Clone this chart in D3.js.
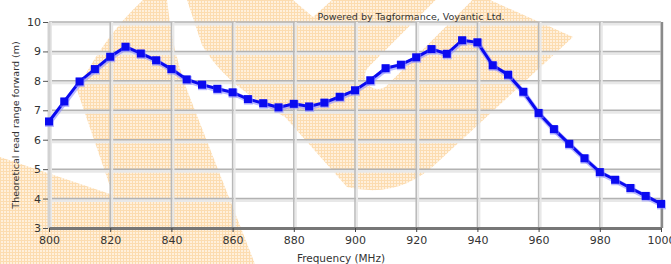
<!DOCTYPE html>
<html>
<head>
<meta charset="utf-8">
<script src="https://cdn.jsdelivr.net/npm/d3@7"></script>
<style>
  body { margin: 0; background: #fff; }
  text { font-family: "DejaVu Sans", sans-serif; fill: #333; }
</style>
</head>
<body>
<div id="chart"></div>
<script>
// data
var freqs = [800, 805, 810, 815, 820, 825, 830, 835, 840, 845, 850, 855, 860, 865, 870, 875, 880, 885, 890, 895, 900,
             905, 910, 915, 920, 925, 930, 935, 940, 945, 950, 955, 960, 965, 970, 975, 980, 985, 990, 995, 1000];
var range = [6.62, 7.30, 7.98, 8.40, 8.82, 9.16, 8.93, 8.70, 8.40, 8.05, 7.87, 7.73, 7.61, 7.38, 7.24, 7.10, 7.22, 7.13, 7.26, 7.46, 7.68,
             8.02, 8.43, 8.55, 8.80, 9.08, 8.92, 9.38, 9.31, 8.53, 8.21, 7.63, 6.91, 6.36, 5.86, 5.37, 4.90, 4.64, 4.36, 4.09, 3.82];
var xTicks = [800, 820, 840, 860, 880, 900, 920, 940, 960, 980, 1000];
var yTicks = [3, 4, 5, 6, 7, 8, 9, 10];

var svgWidth = 671, svgHeight = 264;
var margin = {top: 22, right: 10, bottom: 36, left: 49};
var width = 612, height = 206;

var svg = d3.select("#chart").append("svg").attr("width", svgWidth).attr("height", svgHeight);

// watermark logo (decoration behind the grid)
var defs = svg.append("defs");
var pat = defs.append("pattern").attr("id", "dots").attr("width", 3).attr("height", 3).attr("patternUnits", "userSpaceOnUse");
pat.append("rect").attr("width", 3).attr("height", 3).attr("fill", "#fff0dc");
pat.append("rect").attr("width", 3).attr("height", 1).attr("fill", "#fcdcb0");
pat.append("rect").attr("width", 1).attr("height", 3).attr("fill", "#fcdcb0");

var logo = svg.append("g");
logo.append("path").attr("fill", "url(#dots)")
  .attr("d", "M143,0 L167,0 Q172,50 187,90 L255,264 L0,264 L0,157 L113,195 L77,90 Q105,35 143,0 Z");
logo.append("path").attr("fill", "url(#dots)")
  .attr("d", "M187,0 L490,0 L573,37 L440,160 Q400,200 347,187 L285,117 Q225,85 202,45 Z");
logo.append("path").attr("fill", "#fff").attr("d", "M293,0 L313,17 L332,0 Z");
logo.append("line").attr("x1", 462).attr("y1", -8).attr("x2", 378).attr("y2", 76)
  .attr("stroke", "#fff").attr("stroke-width", 26).attr("stroke-linecap", "round");

var x = d3.scaleLinear().domain([800, 1000]).range([margin.left, margin.left + width]);
var y = d3.scaleLinear().domain([3, 10]).range([margin.top + height, margin.top]);

// grid
var grid = svg.append("g");
grid.selectAll(".hband").data(yTicks.slice(1)).enter().append("line")
  .attr("x1", x(800)).attr("x2", x(1000))
  .attr("y1", d => y(d) + 2).attr("y2", d => y(d) + 2)
  .attr("stroke", "#e8e8e8").attr("stroke-width", 3);
grid.selectAll(".hline").data(yTicks.slice(1)).enter().append("line")
  .attr("x1", x(800)).attr("x2", x(1000))
  .attr("y1", d => y(d)).attr("y2", d => y(d))
  .attr("stroke", "#b2b2b2").attr("stroke-width", 1.5);
grid.selectAll(".vband").data(xTicks).enter().append("line")
  .attr("x1", d => x(d) + 2).attr("x2", d => x(d) + 2)
  .attr("y1", y(10)).attr("y2", y(3))
  .attr("stroke", "#e8e8e8").attr("stroke-width", 2);
grid.selectAll(".vline").data(xTicks).enter().append("line")
  .attr("x1", d => x(d)).attr("x2", d => x(d))
  .attr("y1", y(10)).attr("y2", y(3))
  .attr("stroke", d => d == 800 ? "#d2d2d2" : "#b8b8b8").attr("stroke-width", d => d == 800 ? 3 : 1.5);
// right border
svg.append("line").attr("x1", x(1000) + 1).attr("x2", x(1000) + 1).attr("y1", y(10)).attr("y2", y(3))
  .attr("stroke", "#8a8a8a").attr("stroke-width", 2);

// axes
var bottomAxis = d3.axisBottom(x).tickValues(xTicks).tickFormat(d3.format("d")).tickSize(4).tickSizeOuter(0).tickPadding(4);
var leftAxis = d3.axisLeft(y).tickValues(yTicks).tickFormat(d3.format("d")).tickSize(5).tickSizeOuter(0).tickPadding(2);

var gx = svg.append("g").attr("transform", `translate(0,${y(3)})`).call(bottomAxis);
gx.select(".domain").attr("stroke", "#777").attr("stroke-width", 3);
gx.selectAll(".tick line").attr("stroke", "#444");
gx.selectAll(".tick text").attr("font-size", 11).attr("font-family", "DejaVu Sans").attr("fill", "#333");

var gy = svg.append("g").attr("transform", `translate(${margin.left - 1},0)`).call(leftAxis);
gy.select(".domain").remove();
gy.selectAll(".tick line").attr("stroke", "#555");
gy.selectAll(".tick text").attr("font-size", 11).attr("font-family", "DejaVu Sans").attr("fill", "#333");

// series
var pts = freqs.map((f, i) => [f, range[i]]);
var line = d3.line().x(d => x(d[0])).y(d => y(d[1]));

svg.append("path").datum(pts).attr("d", line)
  .attr("fill", "none").attr("stroke", "#8c8cff").attr("stroke-width", 5).attr("opacity", 0.6)
  .attr("transform", "translate(0.5,1)");
svg.append("path").datum(pts).attr("d", line)
  .attr("fill", "none").attr("stroke", "#0a0af0").attr("stroke-width", 3);

svg.selectAll(".halo").data(pts).enter().append("rect")
  .attr("x", d => x(d[0]) - 4).attr("y", d => y(d[1]) - 3.5)
  .attr("width", 9).attr("height", 9).attr("fill", "#8c8cff").attr("opacity", 0.6);
svg.selectAll(".mark").data(pts).enter().append("rect")
  .attr("x", d => x(d[0]) - 4).attr("y", d => y(d[1]) - 4)
  .attr("width", 8).attr("height", 8).attr("fill", "#0a0af0");

// labels
svg.append("text").attr("x", 411).attr("y", 20).attr("text-anchor", "middle")
  .attr("font-size", 9.5).text("Powered by Tagformance, Voyantic Ltd.");

svg.append("text")
  .attr("transform", `translate(19,${margin.top + height / 2}) rotate(-90)`)
  .attr("text-anchor", "middle").attr("font-size", 9.5)
  .text("Theoretical read range forward (m)");

svg.append("text").attr("x", 341).attr("y", 262).attr("text-anchor", "middle")
  .attr("font-size", 10.5).text("Frequency (MHz)");
</script>
</body>
</html>
